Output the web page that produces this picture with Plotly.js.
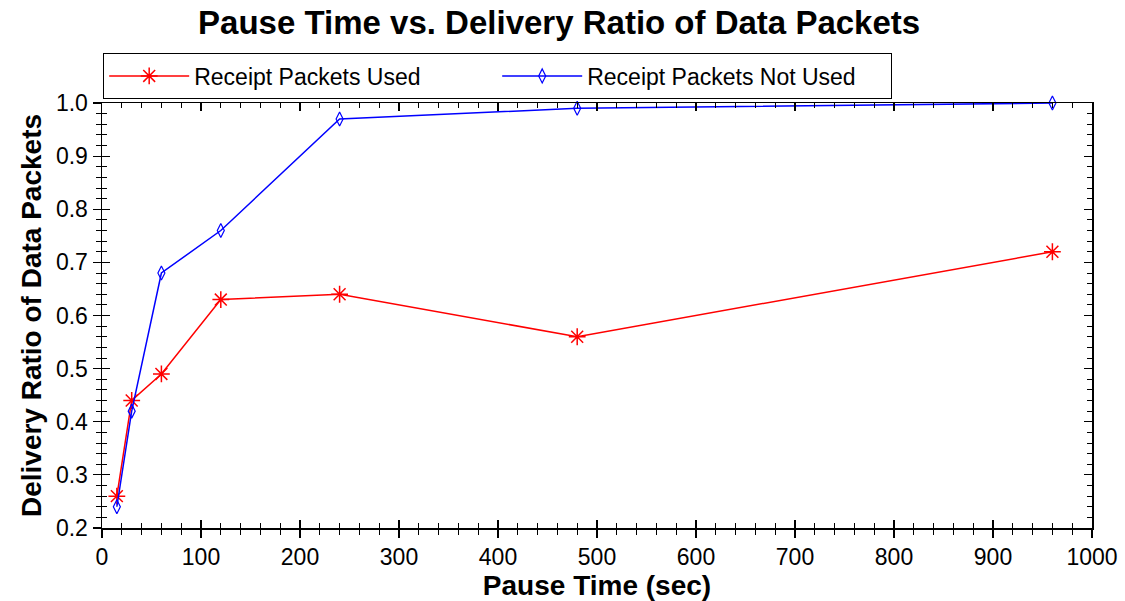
<!DOCTYPE html>
<html><head><meta charset="utf-8">
<script src="https://cdn.plot.ly/plotly-3.0.1.min.js"></script>
<style>body{margin:0;background:#fff}#chart{width:1125px;height:601px}</style>
</head><body><div id="chart"></div>
<script>
const pauseTime = [15, 30, 60, 120, 240, 480, 960];
const receiptUsed = [0.26, 0.44, 0.49, 0.63, 0.64, 0.56, 0.72];
const receiptNotUsed = [0.24, 0.42, 0.68, 0.76, 0.97, 0.99, 1.0];
const seriesNames = ["Receipt Packets Used", "Receipt Packets Not Used"];

const narrow = '"Liberation Sans Narrow", "Arial Narrow", "Liberation Sans", Arial, sans-serif';
const bold = '"Liberation Sans", Arial, sans-serif';

const traces = [
  {x: pauseTime, y: receiptUsed, name: seriesNames[0], mode: 'lines+markers',
   line: {color: '#ff0000', width: 1.5},
   marker: {symbol: 'asterisk-open', size: 14, color: '#ff0000', line: {color: '#ff0000', width: 1.5}},
   cliponaxis: false},
  {x: pauseTime, y: receiptNotUsed, name: seriesNames[1], mode: 'lines+markers',
   line: {color: '#0000ff', width: 1.5},
   marker: {symbol: 'diamond-tall-open', size: 10, color: '#0000ff', line: {color: '#0000ff', width: 1.2}},
   cliponaxis: false},
  {x: pauseTime, y: receiptUsed, xaxis: 'x2', yaxis: 'y2', mode: 'lines', showlegend: false,
   hoverinfo: 'skip', line: {width: 0}, opacity: 0}
];

const axBase = {
  showgrid: false, zeroline: false, showline: true, linecolor: '#000', linewidth: 1.5,
  tickcolor: '#000', tickwidth: 1.2
};

const layout = {
  width: 1125, height: 601,
  paper_bgcolor: '#fff', plot_bgcolor: '#fff',
  margin: {l: 102, r: 33, t: 103, b: 73},
  title: {text: 'Pause Time vs. Delivery Ratio of Data Packets', x: 0.497, xanchor: 'center', y: 0.962, yanchor: 'middle',
          font: {family: bold, size: 33, color: '#000', weight: 'bold'}},
  showlegend: true,
  legend: {orientation: 'h', x: 0.001, xanchor: 'left', y: 1.117, yanchor: 'top',
           bordercolor: '#000', borderwidth: 1.2, bgcolor: '#fff',
           font: {family: narrow, size: 23, color: '#000'}, itemwidth: 80,
           entrywidth: 298, entrywidthmode: 'pixels', tracegroupgap: 0},
  xaxis: Object.assign({}, axBase, {
    range: [0, 1000], dtick: 100, tick0: 0, ticks: 'outside', ticklen: 8, mirror: true,
    minor: {dtick: 20, ticks: 'outside', ticklen: 5, tickcolor: '#000', tickwidth: 1},
    tickfont: {family: narrow, size: 23, color: '#000'},
    title: {text: 'Pause Time (sec)', font: {family: bold, size: 28, color: '#000', weight: 'bold'}, standoff: 6}
  }),
  yaxis: Object.assign({}, axBase, {
    range: [0.2, 1.0], dtick: 0.1, tick0: 0.2, ticks: 'outside', ticklen: 8, mirror: true,
    tickformat: '.1f',
    minor: {dtick: 0.02, ticks: 'outside', ticklen: 5, tickcolor: '#000', tickwidth: 1},
    tickfont: {family: narrow, size: 23, color: '#000'},
    title: {text: 'Delivery Ratio of Data Packets', font: {family: bold, size: 28, color: '#000', weight: 'bold'}, standoff: 6}
  }),
  xaxis2: {overlaying: 'x', range: [0, 1000], dtick: 100, tick0: 0, side: 'bottom', anchor: 'y2',
    showgrid: false, zeroline: false, showline: false, showticklabels: false,
    ticks: 'inside', ticklen: 8, tickcolor: '#000', tickwidth: 1.2, mirror: 'ticks',
    minor: {dtick: 20, ticks: 'inside', ticklen: 5, tickcolor: '#000', tickwidth: 1}},
  yaxis2: {overlaying: 'y', range: [0.2, 1.0], dtick: 0.1, tick0: 0.2, side: 'left', anchor: 'x2',
    showgrid: false, zeroline: false, showline: false, showticklabels: false,
    ticks: 'inside', ticklen: 8, tickcolor: '#000', tickwidth: 1.2, mirror: 'ticks',
    minor: {dtick: 0.02, ticks: 'inside', ticklen: 5, tickcolor: '#000', tickwidth: 1}}
};

Plotly.newPlot('chart', traces, layout, {displayModeBar: false, staticPlot: true});
</script></body></html>
